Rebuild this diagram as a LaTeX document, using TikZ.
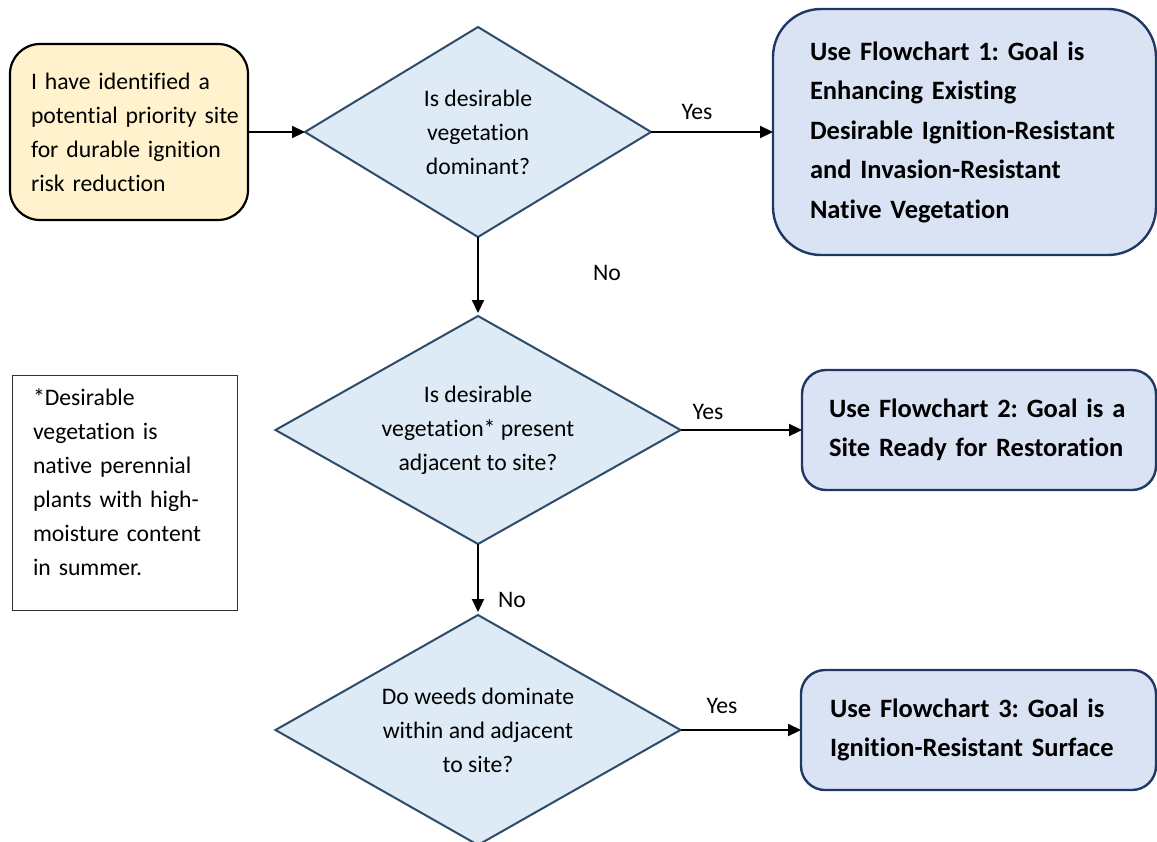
\documentclass[tikz,border=0pt]{standalone}
\usepackage{fontspec}
\setmainfont{Carlito}[Ligatures=NoCommon]
\usetikzlibrary{shapes.geometric,arrows.meta}

\definecolor{startfill}{HTML}{FFF2CC}
\definecolor{qfill}{HTML}{DEEBF7}
\definecolor{qedge}{HTML}{2E4B6A}
\definecolor{goalfill}{HTML}{DAE3F3}
\definecolor{goaledge}{HTML}{1F3864}

\newcommand{\oneline}[1]{\mbox{#1}}

\begin{document}
\frenchspacing
\begin{tikzpicture}[
  x=1pt,
  y=-1pt,
  font={\fontsize{23.7}{34}\selectfont},
  start/.style={draw=black, fill=startfill, line width=2.2pt, rounded corners=30pt,
    align=left, inner ysep=0pt, outer sep=0pt},
  choice/.style={diamond, draw=qedge, fill=qfill, line width=2pt, aspect=1.7,
    inner sep=0pt, outer sep=0pt, align=center},
  goal/.style={draw=goaledge, fill=goalfill, line width=2.4pt, align=left,
    inner ysep=0pt, outer sep=0pt, font={\fontsize{26.5}{39.5}\selectfont\bfseries}},
  note/.style={draw=black!80, line width=1pt, align=left, inner ysep=0pt, outer sep=0pt},
  arr/.style={-{Triangle[length=13pt,width=12pt]}, line width=2.2pt},
]
  \useasboundingbox (0,0) rectangle (1157,841);
  \clip (0,0) rectangle (1157,841);

  % start
  \node[start, minimum width=238, minimum height=176, inner xsep=21pt, text width=196] (site) at (129,132)
    {\oneline{I have identified a}\\\oneline{potential priority site}\\\oneline{for durable ignition}\\\oneline{risk reduction}};

  % questions
  \node[choice, minimum width=346, minimum height=210] (q1) at (478,132)
    {Is desirable\\vegetation\\dominant?};
  \node[choice, minimum width=405, minimum height=228] (q2) at (478,430)
    {Is desirable\\vegetation* present\\adjacent to site?};
  \node[choice, minimum width=405, minimum height=230] (q3) at (478,730)
    {Do weeds dominate\\within and adjacent\\to site?};

  % goals
  \node[goal, rounded corners=48pt, minimum width=383, minimum height=246,
    inner xsep=37pt, text width=309] (fc1) at (964.5,132)
    {\oneline{Use Flowchart 1: Goal is}\\\oneline{Enhancing Existing}\\\oneline{Desirable Ignition-Resistant}\\\oneline{and Invasion-Resistant}\\\oneline{Native Vegetation}};
  \node[goal, rounded corners=24pt, minimum width=354, minimum height=120,
    inner xsep=27pt, text width=300] (fc2) at (979,430)
    {\oneline{Use Flowchart 2: Goal is a}\\\oneline{Site Ready for Restoration}};
  \node[goal, rounded corners=24pt, minimum width=355, minimum height=120,
    inner xsep=29pt, text width=297] (fc3) at (978.5,730)
    {\oneline{Use Flowchart 3: Goal is}\\\oneline{Ignition-Resistant Surface}};

  % footnote
  \node[note, minimum width=225, minimum height=235, inner xsep=21pt, text width=183] (foot) at (124.5,492.5)
    {\oneline{*Desirable}\\\oneline{vegetation is}\\\oneline{native perennial}\\\oneline{plants with high-}\\\oneline{moisture content}\\\oneline{in summer.}\\[-14pt]\oneline{}};

  % connectors
  \draw[arr] (site.east) -- (q1.west);
  \draw[arr] (q1.east) -- (fc1.west);
  \draw[arr, shorten >=3pt] (q1.south) -- (q2.north);
  \draw[arr] (q2.east) -- (fc2.west);
  \draw[arr, shorten >=3pt] (q2.south) -- (q3.north);
  \draw[arr] (q3.east) -- (fc3.west);

  \node (yes1) at (697,112) {Yes};
  \node (no1) at (607,273) {No};
  \node (yes2) at (708,412) {Yes};
  \node (no2) at (512,600) {No};
  \node (yes3) at (722,706) {Yes};
\end{tikzpicture}
\end{document}
